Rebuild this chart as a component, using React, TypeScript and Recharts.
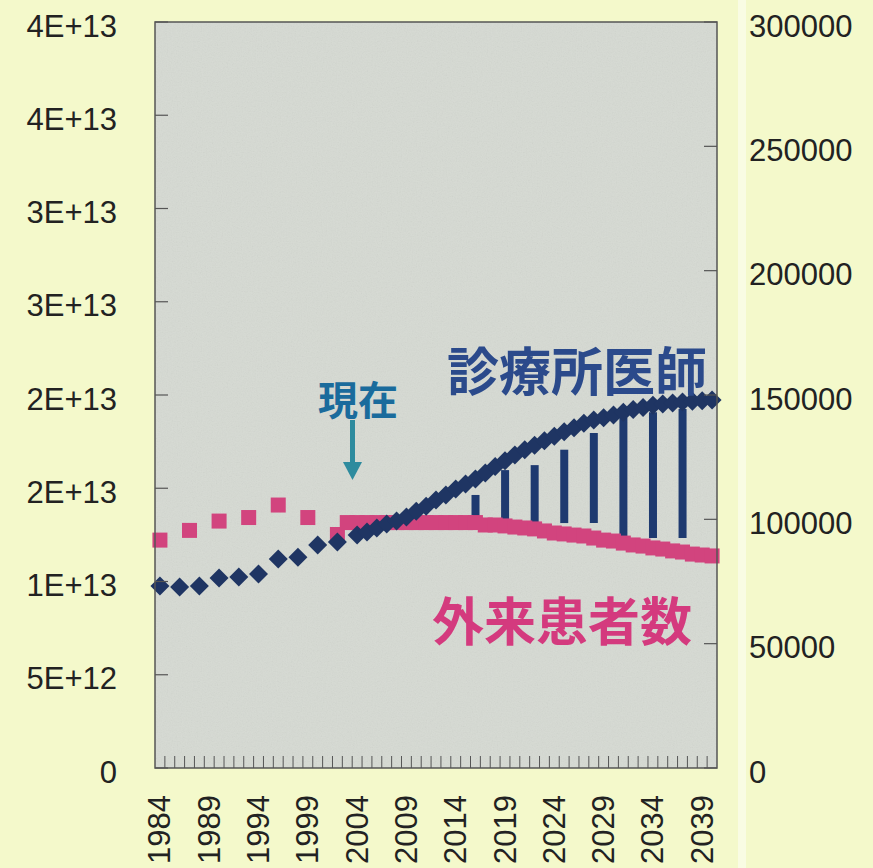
import React from 'react';
import { ComposedChart, Line, Bar, XAxis, YAxis } from 'recharts';

const years = [
  1984, 1985, 1986, 1987, 1988, 1989, 1990, 1991, 1992, 1993,
  1994, 1995, 1996, 1997, 1998, 1999, 2000, 2001, 2002, 2003,
  2004, 2005, 2006, 2007, 2008, 2009, 2010, 2011, 2012, 2013,
  2014, 2015, 2016, 2017, 2018, 2019, 2020, 2021, 2022, 2023,
  2024, 2025, 2026, 2027, 2028, 2029, 2030, 2031, 2032, 2033,
  2034, 2035, 2036, 2037, 2038, 2039, 2040,
];

// 診療所医師 (right axis)
const clinicDoctors = [
  73200, null, 72800, null, 73200, null, 76400, null, 76800, null,
  78000, null, 84000, null, 84800, null, 89700, null, 90900, null,
  93700, 94900, 96500, 98100, 99300, 100900, 103300, 105300, 107800, 109800,
  112200, 114200, 116200, 118600, 121200, 123600, 125900, 128000, 129800, 131600,
  133400, 135200, 136800, 138600, 139900, 140900, 142000, 143100, 144200, 145000,
  145900, 146400, 146800, 147200, 147500, 147700, 148000,
];

// 外来患者数 (left axis)
const outpatients = [
  1.222e13, null, null, 1.274e13, null, null, 1.324e13, null, null, 1.343e13,
  null, null, 1.410e13, null, null, 1.343e13, null, null, 1.252e13, 1.316e13,
  1.316e13, 1.316e13, 1.316e13, 1.316e13, 1.316e13, 1.316e13, 1.316e13, 1.316e13, 1.316e13, 1.316e13,
  1.316e13, 1.316e13, 1.316e13, 1.303e13, 1.303e13, 1.298e13, 1.292e13, 1.287e13, 1.282e13, 1.271e13,
  1.260e13, 1.255e13, 1.249e13, 1.244e13, 1.233e13, 1.222e13, 1.217e13, 1.206e13, 1.196e13, 1.190e13,
  1.180e13, 1.174e13, 1.164e13, 1.158e13, 1.147e13, 1.142e13, 1.137e13,
];

// gap bars between the two series (right axis)
const gapYears = [2016, 2019, 2022, 2025, 2028, 2031, 2034, 2037];
const gapLow = [98500, 98500, 98500, 98500, 98500, 92500, 92500, 92500];
const gapHigh = [109800, 119800, 121800, 128000, 134700, 140900, 143100, 144400];

const leftTicks = [0, 5e12, 1e13, 1.5e13, 2e13, 2.5e13, 3e13, 3.5e13, 4e13];
const leftTickLabels = ['0', '5E+12', '1E+13', '2E+13', '2E+13', '3E+13', '3E+13', '4E+13', '4E+13'];
const rightTicks = [0, 50000, 100000, 150000, 200000, 250000, 300000];

const data = years.map((y, i) => {
  const g = gapYears.indexOf(y);
  return {
    year: String(y),
    doctors: clinicDoctors[i],
    outpatients: outpatients[i],
    gap: g >= 0 ? [gapLow[g], gapHigh[g]] : null,
  };
});

const NAVY = '#1F3563';
const PINK = '#D2447E';
const AXIS = '#555555';
const FONT = '"Liberation Sans", Arial, sans-serif';
const CJK = '"Noto Sans CJK JP", sans-serif';

const W = 873;
const H = 868;
const PL = 155;
const PR = 717;
const PT = 22;
const PB = 768;
const BAND = (PR - PL) / years.length;

const Diamond = (props: any) => {
  const { cx, cy, value, index } = props;
  if (value == null || cx == null || cy == null) return <g key={`d${index}`} />;
  const r = 9.5;
  return (
    <path
      key={`d${index}`}
      d={`M${cx},${cy - r} L${cx + r},${cy} L${cx},${cy + r} L${cx - r},${cy} Z`}
      fill={NAVY}
    />
  );
};

const Square = (props: any) => {
  const { cx, cy, value, index } = props;
  if (value == null || cx == null || cy == null) return <g key={`s${index}`} />;
  const s = 7.5;
  return <rect key={`s${index}`} x={cx - s} y={cy - s} width={s * 2} height={s * 2} fill={PINK} />;
};

const LeftTick = (props: any) => {
  const { x, y, payload } = props;
  const idx = leftTicks.indexOf(payload.value);
  return (
    <g>
      <line x1={x} x2={x + 13} y1={y} y2={y} stroke={AXIS} strokeWidth={1.2} />
      <text x={x - 38} y={y + 4} textAnchor="end" dominantBaseline="central" fontSize={31} fontFamily={FONT} fill="#222">
        {leftTickLabels[idx]}
      </text>
    </g>
  );
};

const RightTick = (props: any) => {
  const { x, y, payload } = props;
  return (
    <g>
      <line x1={x - 13} x2={x} y1={y} y2={y} stroke={AXIS} strokeWidth={1.2} />
      <text x={x + 32} y={y + 4} textAnchor="start" dominantBaseline="central" fontSize={31} fontFamily={FONT} fill="#222">
        {String(payload.value)}
      </text>
    </g>
  );
};

const BottomTick = (props: any) => {
  const { x, y, payload } = props;
  const idx = years.indexOf(Number(payload.value));
  const bx = x + BAND / 2;
  return (
    <g>
      {idx < years.length - 1 && (
        <line x1={bx} x2={bx} y1={y - 12} y2={y} stroke={AXIS} strokeWidth={1} />
      )}
      {idx % 5 === 0 && (
        <text
          transform={`translate(${x},${y + 27}) rotate(-90)`}
          textAnchor="end"
          dominantBaseline="central"
          fontSize={31}
          fontFamily={FONT}
          fill="#222"
        >
          {payload.value}
        </text>
      )}
    </g>
  );
};

export default function App() {
  return (
    <div style={{ position: 'absolute', left: 0, top: 0, width: W, height: H, background: '#F4F9CB', overflow: 'hidden' }}>
      <svg width={W} height={H} style={{ position: 'absolute', left: 0, top: 0 }}>
        <defs>
          <filter id="noise" x="0" y="0" width="100%" height="100%">
            <feTurbulence type="fractalNoise" baseFrequency="0.8" numOctaves="2" seed="3" />
            <feColorMatrix type="saturate" values="0" />
          </filter>
        </defs>
        <rect x={PL} y={PT} width={PR - PL} height={PB - PT} fill="#D6DAD3" />
        <rect x={PL} y={PT} width={PR - PL} height={PB - PT} filter="url(#noise)" opacity={0.12} />
        <rect x={738} y={0} width={8} height={H} fill="#FAFCE8" opacity={0.8} />
      </svg>
      <div style={{ position: 'absolute', left: 0, top: 0 }}>
        <ComposedChart
          width={W}
          height={H}
          data={data}
          margin={{ top: PT, right: 0, bottom: 0, left: 0 }}
          barCategoryGap={0}
        >
          <XAxis
            dataKey="year"
            interval={0}
            tickLine={false}
            axisLine={false}
            tickSize={0}
            tickMargin={0}
            height={H - PB}
            tick={<BottomTick />}
          />
          <YAxis
            yAxisId="left"
            orientation="left"
            width={PL}
            domain={[0, 4e13]}
            ticks={leftTicks}
            interval={0}
            tickLine={false}
            axisLine={false}
            tickSize={0}
            tickMargin={0}
            tick={<LeftTick />}
          />
          <YAxis
            yAxisId="right"
            orientation="right"
            width={W - PR}
            domain={[0, 300000]}
            ticks={rightTicks}
            interval={0}
            tickLine={false}
            axisLine={false}
            tickSize={0}
            tickMargin={0}
            tick={<RightTick />}
          />
          <Bar yAxisId="right" dataKey="gap" fill="#1E3A70" barSize={8} isAnimationActive={false} />
          <Line
            yAxisId="left"
            dataKey="outpatients"
            stroke="none"
            strokeWidth={0}
            dot={<Square />}
            activeDot={false}
            isAnimationActive={false}
          />
          <Line
            yAxisId="right"
            dataKey="doctors"
            stroke="none"
            strokeWidth={0}
            dot={<Diamond />}
            activeDot={false}
            isAnimationActive={false}
          />
        </ComposedChart>
      </div>
      <svg width={W} height={H} style={{ position: 'absolute', left: 0, top: 0, pointerEvents: 'none' }}>
        <rect x={PL} y={PT} width={PR - PL} height={PB - PT} fill="none" stroke={AXIS} strokeWidth={1.5} />
        <text x={577} y={368} textAnchor="middle" dominantBaseline="central" fontSize={52} fontWeight={700} fontFamily={CJK} fill="#2B4A8B">
          診療所医師
        </text>
        <text x={358} y={398} textAnchor="middle" dominantBaseline="central" fontSize={40} fontWeight={700} fontFamily={CJK} fill="#1A6B9C">
          現在
        </text>
        <rect x={350} y={420} width={5} height={43} fill="#2E8B9E" />
        <path d="M343,462 L362,462 L352.5,480 Z" fill="#2E8B9E" />
        <text x={562} y={618} textAnchor="middle" dominantBaseline="central" fontSize={52} fontWeight={700} fontFamily={CJK} fill="#D43A7E">
          外来患者数
        </text>
      </svg>
    </div>
  );
}
